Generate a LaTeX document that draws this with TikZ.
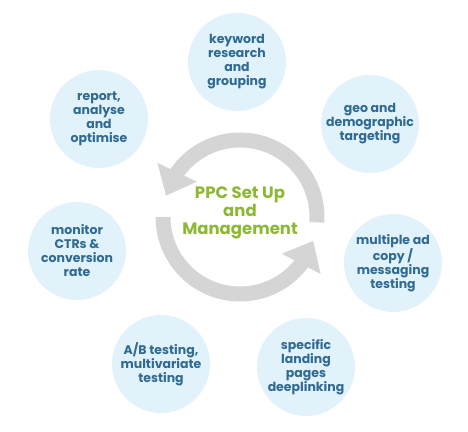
\documentclass[tikz,border=0pt]{standalone}
\usepackage{fontspec}
\setmainfont{Poppins}
\usetikzlibrary{arrows.meta,positioning,bending}
\definecolor{bubble}{HTML}{E2F2FA}
\definecolor{ink}{HTML}{2F6A92}
\definecolor{leaf}{HTML}{8CB833}
\definecolor{loopgray}{HTML}{D5D5D5}

\begin{document}
\begin{tikzpicture}[x=1pt,y=1pt,
  step circ/.style={circle,fill=bubble,minimum size=98pt,inner sep=0pt,align=center,
    text=ink,font=\bfseries\fontsize{12.5}{14}\selectfont},
  cycle arr/.style={draw=loopgray,line width=15pt,-{Triangle[length=26pt,width=42pt,flex]}}]
\useasboundingbox (0,0) rectangle (468,431);
\node[step circ] (kw) at (237,369) {keyword\\research\\and\\grouping};
\node[step circ] (geo) at (370,307) {geo and\\demographic\\targeting};
\node[step circ] (ad) at (393,168) {multiple ad\\copy /\\messaging\\testing};
\node[step circ] (lp) at (306,64) {specific\\landing\\pages\\deeplinking};
\node[step circ] (ab) at (161,67) {A/B testing,\\multivariate\\testing};
\node[step circ] (ctr) at (77,180) {monitor\\CTRs \&\\conversion\\rate};
\node[step circ] (rep) at (99,312) {report,\\analyse\\and\\optimise};
% the loop in the middle
\coordinate (hub) at (240,214);
\draw[cycle arr] ([shift={(-4:77)}]hub) arc[start angle=-4,end angle=164,radius=77];
\draw[cycle arr] ([shift={(180:77)}]hub) arc[start angle=180,end angle=342,radius=77];
\node[text=leaf,align=center,font=\bfseries\fontsize{16.5}{18}\selectfont] (ppc) at (240,218)
  {PPC Set Up\\and\\Management};
\end{tikzpicture}
\end{document}
